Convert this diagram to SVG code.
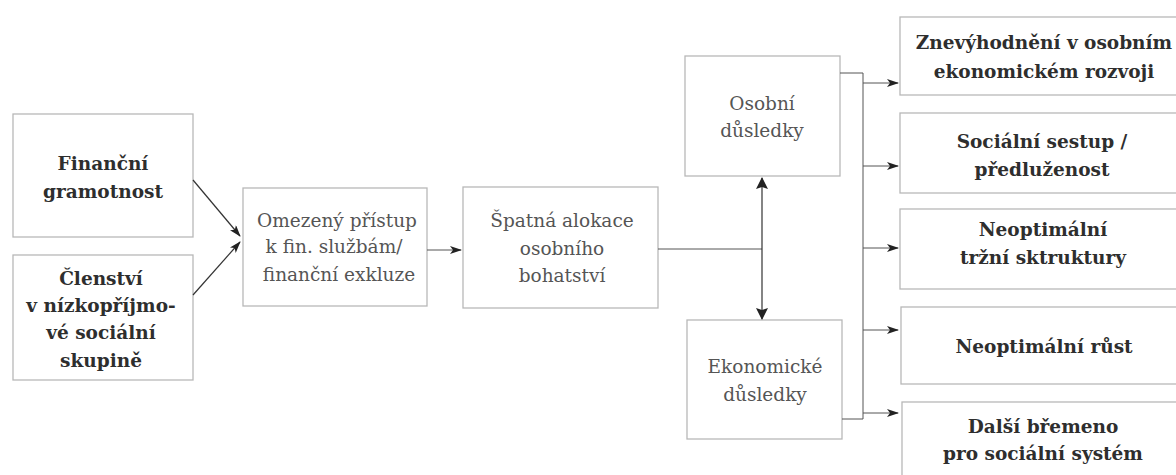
<svg xmlns="http://www.w3.org/2000/svg" width="1176" height="475" viewBox="0 0 1176 475">
<style>
.box{fill:#fff;stroke:#b8b8b8;stroke-width:1.3}
.b{font-family:"DejaVu Serif","Liberation Serif",serif;font-weight:bold;font-size:18.5px;fill:#2e2e2e;text-anchor:middle}
.r{font-family:"DejaVu Serif","Liberation Serif",serif;font-size:18.5px;fill:#555;text-anchor:middle}
.c{fill:none;stroke:#333;stroke-width:1.2}
.g{fill:none;stroke:#555;stroke-width:1}
</style>
<defs>
<marker id="ah" markerWidth="12" markerHeight="8" refX="11" refY="4" orient="auto" markerUnits="userSpaceOnUse">
<path d="M0,0 L12,4 L0,8 L3,4 Z" fill="#222"/>
</marker>
<marker id="big" markerWidth="12" markerHeight="12" refX="11" refY="6" orient="auto" markerUnits="userSpaceOnUse">
<path d="M0,0 L12,6 L0,12 L2,6 Z" fill="#222"/>
</marker>
<marker id="bigs" markerWidth="12" markerHeight="12" refX="1" refY="6" orient="auto" markerUnits="userSpaceOnUse">
<path d="M12,0 L0,6 L12,12 L10,6 Z" fill="#222"/>
</marker>
</defs>
<rect width="1176" height="475" fill="#fff"/>

<g id="n-financni">
<rect class="box" x="13" y="114" width="180" height="123"/>
<text class="b" x="103" y="170">Finanční</text>
<text class="b" x="103" y="198">gramotnost</text>
</g>
<g id="n-clenstvi">
<rect class="box" x="13" y="255" width="180" height="125"/>
<text class="b" x="101" y="285">Členství</text>
<text class="b" x="101" y="312">v nízkopříjmo-</text>
<text class="b" x="101" y="339">vé sociální</text>
<text class="b" x="101" y="367">skupině</text>
</g>
<g id="n-omezeny">
<rect class="box" x="243" y="188" width="184" height="118"/>
<text class="r" x="337" y="227">Omezený přístup</text>
<text class="r" x="334" y="253">k fin. službám/</text>
<text class="r" x="339" y="281">finanční exkluze</text>
</g>
<g id="n-spatna">
<rect class="box" x="463" y="187" width="195" height="121"/>
<text class="r" x="562" y="227">Špatná alokace</text>
<text class="r" x="562" y="255">osobního</text>
<text class="r" x="562" y="282">bohatství</text>
</g>
<g id="n-osobni">
<rect class="box" x="685" y="56" width="155" height="120"/>
<text class="r" x="762" y="110">Osobní</text>
<text class="r" x="762" y="137">důsledky</text>
</g>
<g id="n-ekonomicke">
<rect class="box" x="687" y="320" width="155" height="119"/>
<text class="r" x="765" y="373">Ekonomické</text>
<text class="r" x="765" y="401">důsledky</text>
</g>
<g id="n-r1">
<rect class="box" x="900" y="17" width="290" height="78"/>
<text class="b" x="1044" y="49">Znevýhodnění v osobním</text>
<text class="b" x="1044" y="78">ekonomickém rozvoji</text>
</g>
<g id="n-r2">
<rect class="box" x="900" y="113" width="290" height="80"/>
<text class="b" x="1042" y="148">Sociální sestup /</text>
<text class="b" x="1042" y="176">předluženost</text>
</g>
<g id="n-r3">
<rect class="box" x="900" y="209" width="290" height="80"/>
<text class="b" x="1043" y="236">Neoptimální</text>
<text class="b" x="1043" y="264">tržní sktruktury</text>
</g>
<g id="n-r4">
<rect class="box" x="901" y="307" width="290" height="77"/>
<text class="b" x="1044" y="353">Neoptimální růst</text>
</g>
<g id="n-r5">
<rect class="box" x="902" y="402" width="290" height="80"/>
<text class="b" x="1043" y="433">Další břemeno</text>
<text class="b" x="1043" y="460">pro sociální systém</text>
</g>

<g id="connectors">
<line class="c" x1="193" y1="180" x2="240" y2="236" marker-end="url(#ah)"/>
<line class="c" x1="193" y1="295" x2="240" y2="242" marker-end="url(#ah)"/>
<line class="g" x1="427" y1="250" x2="461" y2="250" marker-end="url(#ah)"/>
<line class="g" x1="658" y1="249" x2="762" y2="249"/>
<line class="c" x1="762" y1="178" x2="762" y2="319" marker-start="url(#bigs)" marker-end="url(#big)"/>
<polyline class="g" points="840,73 863,73 863,419 842,419"/>
<line class="g" x1="863" y1="83" x2="898" y2="83" marker-end="url(#ah)"/>
<line class="g" x1="863" y1="166" x2="898" y2="166" marker-end="url(#ah)"/>
<line class="g" x1="863" y1="248" x2="898" y2="248" marker-end="url(#ah)"/>
<line class="g" x1="863" y1="330" x2="898" y2="330" marker-end="url(#ah)"/>
<line class="g" x1="863" y1="413" x2="898" y2="413" marker-end="url(#ah)"/>
</g>
</svg>
